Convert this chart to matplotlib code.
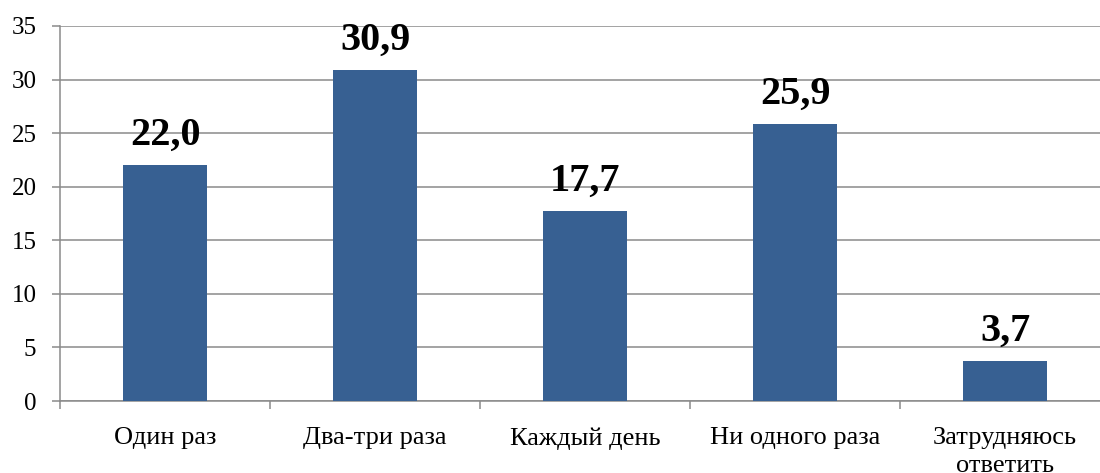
import matplotlib.pyplot as plt
import numpy as np

categories = ["Один раз", "Два-три раза", "Каждый день", "Ни одного раза", "Затрудняюсь\nответить"]
values = [22.0, 30.9, 17.7, 25.9, 3.7]
labels = ["22,0", "30,9", "17,7", "25,9", "3,7"]

plt.rcParams["font.family"] = ["Liberation Serif", "DejaVu Serif"]

bar_color = "#376092"
line_color = "#8a8a8a"

fig = plt.figure(figsize=(11, 4.73), dpi=100)
# plot area runs slightly past the right edge of the canvas
ax = fig.add_axes([60 / 1100, (473 - 401) / 473, 1050 / 1100, 375 / 473])

x = np.arange(len(categories))
ax.bar(x, values, width=0.4, color=bar_color, zorder=3)

for xi, v, s in zip(x, values, labels):
    ax.annotate(s, (xi, v), xytext=(0, 14.5), textcoords="offset points",
                ha="center", va="baseline", fontsize=29, fontweight="bold", zorder=4)

ax.set_xlim(-0.5, len(categories) - 0.5)
ax.set_ylim(0, 35)
ax.set_yticks(np.arange(0, 36, 5))
ax.yaxis.grid(True, color=line_color, linewidth=1.1, zorder=0)
ax.set_axisbelow(True)

ax.set_xticks(x)
ax.set_xticklabels(categories, linespacing=1.35)
ax.set_xticks(np.arange(-0.5, len(categories)), minor=True)
ax.tick_params(axis="x", which="major", length=0, pad=19, labelsize=19)
ax.tick_params(axis="x", which="minor", length=6, width=1.1, color=line_color, direction="out")
ax.tick_params(axis="y", length=6, width=1.1, color=line_color, pad=11, labelsize=18)

for side in ("top", "right"):
    ax.spines[side].set_visible(False)
for side in ("left", "bottom"):
    ax.spines[side].set_color(line_color)
    ax.spines[side].set_linewidth(1.1)

fig.savefig("out.png", dpi=100)
